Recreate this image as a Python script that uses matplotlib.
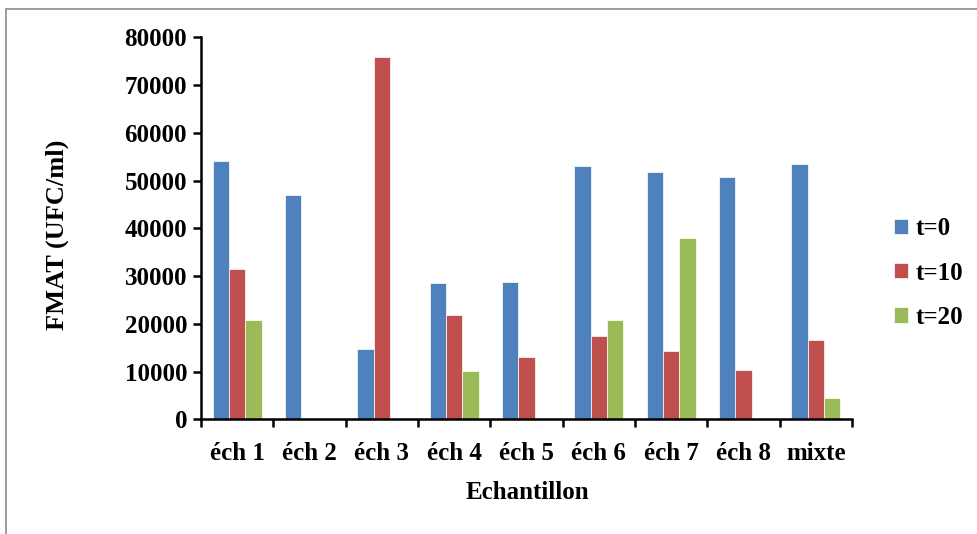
import matplotlib.pyplot as plt
from matplotlib.patches import Rectangle
import numpy as np

# FMAT counts per sample at three times
categories = ['éch 1', 'éch 2', 'éch 3', 'éch 4', 'éch 5', 'éch 6', 'éch 7', 'éch 8', 'mixte']
t0 = [54000, 47000, 14700, 28500, 28800, 53000, 51700, 50700, 53400]
t10 = [31400, 0, 75900, 21800, 13000, 17400, 14400, 10300, 16600]
t20 = [20800, 0, 0, 10100, 0, 20700, 38000, 0, 4400]
series_labels = ['t=0', 't=10', 't=20']
colors = ['#4F81BD', '#C0504D', '#9BBB59']

plt.rcParams['font.family'] = ['Liberation Serif', 'DejaVu Serif']
plt.rcParams['font.weight'] = 'bold'

fig = plt.figure(figsize=(9.77, 5.34), dpi=100)
ax = fig.add_axes([201/977, 1-419.3/534, (852-201)/977, (419.3-37.3)/534])

# grey frame around the whole chart
fig.patches.append(Rectangle((6/977, -0.05), 1.1, 1-9/534+0.05, transform=fig.transFigure,
                             fill=False, edgecolor='#8c8c8c', linewidth=1.2))

x = np.arange(len(categories))
w = 0.225
for i, (vals, lab, c) in enumerate(zip([t0, t10, t20], series_labels, colors)):
    ax.bar(x + (i-1)*w, vals, width=w, color=c, edgecolor='white', linewidth=0.5, label=lab)

ax.set_xlim(-0.5, len(categories)-0.5)
ax.set_ylim(0, 80000)
ax.set_yticks(np.arange(0, 80001, 10000))
ax.set_xticks(x)
ax.set_xticklabels(categories)
ax.set_xticks(np.arange(-0.5, len(categories), 1), minor=True)

ax.spines[['top', 'right']].set_visible(False)
ax.spines[['left', 'bottom']].set_linewidth(1.8)
ax.tick_params(axis='x', which='major', length=0, pad=16, labelsize=18)
ax.tick_params(axis='x', which='minor', direction='out', length=6, width=1.8)
ax.tick_params(axis='y', direction='out', length=6, width=1.8, labelsize=18, pad=4)

ax.set_ylabel('FMAT (UFC/ml)', fontsize=19, fontweight='bold')
ax.yaxis.set_label_coords(-0.203, 0.482)
ax.set_xlabel('Echantillon', fontsize=18, fontweight='bold')
ax.xaxis.set_label_coords(0.5008, -0.1615)

fig.legend(loc='center left', bbox_to_anchor=(894/977, 1-273/534), frameon=False,
           fontsize=18, handlelength=0.56, handleheight=0.56, handletextpad=0.3,
           labelspacing=0.85, borderaxespad=0, borderpad=0)

fig.savefig('out.png', dpi=100)
